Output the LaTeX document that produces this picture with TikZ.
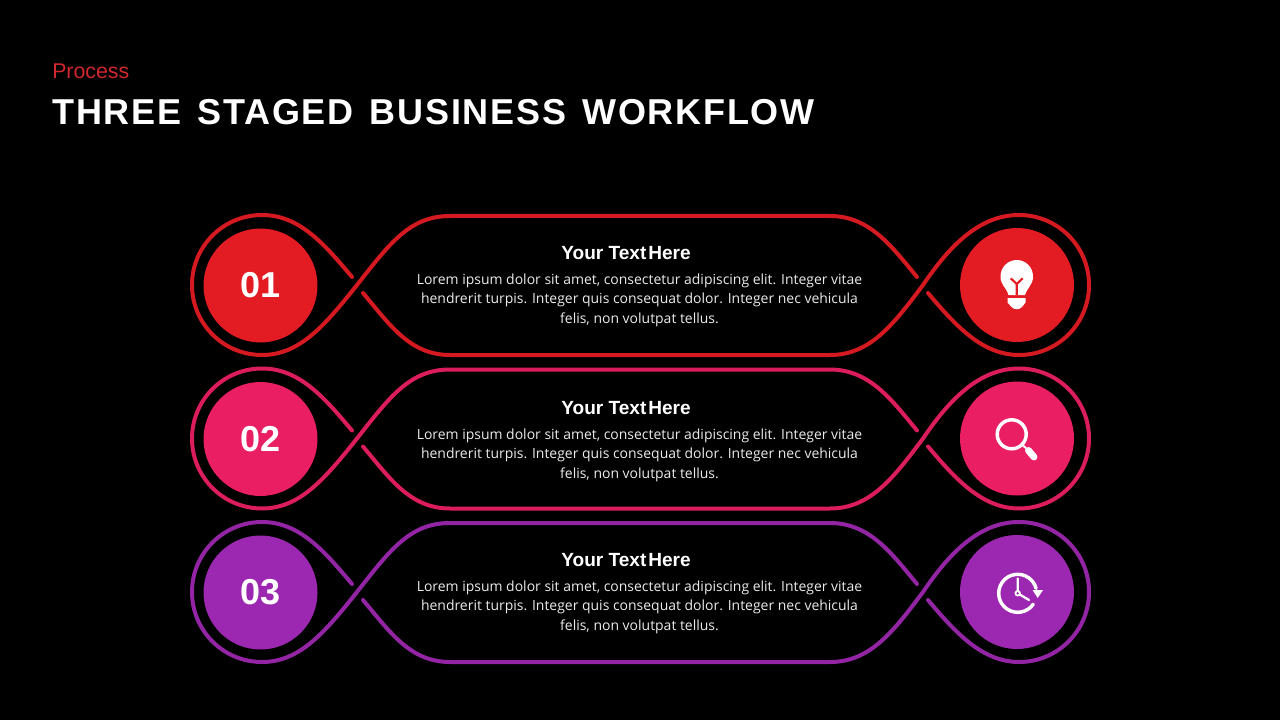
\documentclass[tikz,border=0pt]{standalone}
\usepackage{fontspec}
\setmainfont{Liberation Sans}
\newfontfamily\bodyf{Open Sans}
\newfontfamily\titlef[LetterSpace=5.0,WordSpace=1.35]{Liberation Sans}
\definecolor{cred}{HTML}{E31B23}
\definecolor{cpink}{HTML}{E91E63}
\definecolor{cpurple}{HTML}{9C27B0}
\definecolor{ckicker}{HTML}{D0282E}
\tikzset{
  loopline/.style={line width=3pt,line cap=round,line join=round},
  disc/.style={circle,minimum size=85.5pt,inner sep=0pt,text=white,font=\bfseries\fontsize{27}{27}\selectfont},
  heading/.style={text=white,font=\bfseries\fontsize{14.3}{14.3}\selectfont,inner sep=0pt},
  bodytext/.style={text=white!92!black,font=\bodyf\fontsize{10.47}{14.6}\selectfont,align=center,inner sep=0pt},
  icon/.style={draw=white,line width=2.6pt,line cap=round},
}
\newcommand{\stagerow}[4]{%
\begin{scope}[shift={(0,#2)}]
  \draw[loopline,#1!94!black] (352,277) .. controls (325,245) and (300,215) .. (262,215)
    .. controls (223.3,215) and (192,246.3) .. (192,285)
    .. controls (192,323.7) and (223.3,355) .. (262,355)
    .. controls (300,355) and (325,325) .. (357,285)
    .. controls (390,243) and (410,216) .. (450,216) -- (830,216)
    .. controls (870,216) and (892,247) .. (917,277);
  \draw[loopline,#1!94!black] (363,293) .. controls (390,325) and (410,355) .. (450,355) -- (830,355)
    .. controls (870,355) and (893,325) .. (923,285)
    .. controls (950,245) and (980,215) .. (1019,215)
    .. controls (1057.7,215) and (1089,246.3) .. (1089,285)
    .. controls (1089,323.7) and (1057.7,355) .. (1019,355)
    .. controls (982,355) and (955,325) .. (928,293);
  \node[disc,fill=#1] (num#3) at (260.5,285.5) {#3};
  \node[disc,fill=#1] (ico#3) at (1017,285) {};
  \node[heading] (head#3) at (626,#4) {Your Text\hspace{0.1em}Here};
  \node[bodytext,anchor=north] (body#3) at (639.5,#4+20.5) {Lorem ipsum dolor sit amet, consectetur adipiscing elit. Integer vitae\\hendrerit turpis. Integer quis consequat dolor. Integer nec vehicula\\felis, non volutpat tellus.};
\end{scope}}
\begin{document}
\begin{tikzpicture}[x=0.75pt,y=-0.75pt]
\useasboundingbox (0,0) rectangle (1280,720);
\fill[black] (0,0) rectangle (1280,720);
\node[anchor=west,inner sep=0pt,text=ckicker,font=\fontsize{16}{16}\selectfont] (kicker) at (52,71) {Process};
\node[anchor=west,inner sep=0pt,text=white,font=\titlef\bfseries\fontsize{27}{27}\selectfont] (title) at (52,112) {THREE STAGED BUSINESS WORKFLOW};
\stagerow{cred}{0}{01}{253}
\stagerow{cpink}{153.5}{02}{254.5}
\stagerow{cpurple}{307}{03}{253}
% bulb
\fill[white] (1008.5,295) .. controls (1006,287) and (1000.5,285) .. (1000.5,276.5)
  .. controls (1000.5,267) and (1008,260) .. (1016.7,260)
  .. controls (1025.5,260) and (1033,267) .. (1033,276.5)
  .. controls (1033,285) and (1027.5,287) .. (1025,295) -- cycle;
\fill[white] (1007.5,298) -- (1025.5,298) -- (1025.5,302.5) -- (1022,307) .. controls (1019,310) and (1014.5,310) .. (1011.5,307) -- (1007.5,302.5) -- cycle;
\draw[cred,line width=1.6pt] (1016.7,295) -- (1016.7,284) (1010.7,278.3) -- (1016.7,284) -- (1022.7,278.3);
% magnifier
\draw[icon] (1011.7,434.3) circle (14.5);
\draw[white,line width=1.5pt] (1022,444.6) -- (1028,450);
\draw[white,line width=5.2pt,line cap=round] (1028.5,450.5) -- (1034,457);
% clock
\draw[icon] (1017.7,593.3) ++(35:19) arc[start angle=35,end angle=345,radius=19];
\fill[white] (1032.5,590) -- (1043,590) -- (1037.7,598) -- cycle;
\draw[white,line width=1.7pt,line cap=round] (1017.7,578.5) -- (1017.7,593.3) -- (1029,600);
\fill[white] (1017.7,593.3) circle (3.2);
\fill[cpurple] (1017.7,593.3) circle (1.3);
\end{tikzpicture}
\end{document}
